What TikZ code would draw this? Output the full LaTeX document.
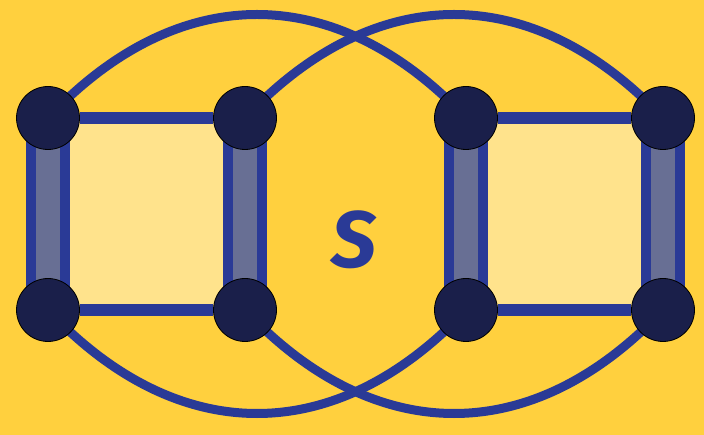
\documentclass[tikz,border=0pt]{standalone}
\usepackage{fontspec}
\setsansfont{Fira Sans}

\definecolor{bgyellow}{RGB}{255,208,62}
\definecolor{facefill}{RGB}{255,227,140}
\definecolor{edgeblue}{RGB}{42,58,150}
\definecolor{vertexnavy}{RGB}{26,31,74}
\definecolor{bargrey}{RGB}{104,111,148}

\pgfdeclarelayer{under}
\pgfsetlayers{under,main}

\begin{document}
\begin{tikzpicture}[
        x=1pt, y=-1pt,
        vertex/.style={
            circle,
            draw=black,
            line width=0.8pt,
            fill=vertexnavy,
            minimum size=63pt,
            inner sep=0pt
        },
        rungline/.style={
            line width=10pt,
            draw=edgeblue,
            double=bargrey,
            double distance=24pt
        },
        railline/.style={line width=12pt, draw=edgeblue},
        arcline/.style={line width=9pt, draw=edgeblue},
        squarefill/.style={fill=facefill}
    ]

        \useasboundingbox (0,0) rectangle (704,435);

        % left square
        \node[vertex] (a1) at (48,118) {};
        \node[vertex] (a2) at (245,118) {};
        \node[vertex] (a3) at (48,310) {};
        \node[vertex] (a4) at (245,310) {};

        % right square
        \node[vertex] (b1) at (466,118) {};
        \node[vertex] (b2) at (663,118) {};
        \node[vertex] (b3) at (466,310) {};
        \node[vertex] (b4) at (663,310) {};

        \node[text=edgeblue, font=\sffamily\bfseries\itshape\fontsize{80}{80}\selectfont,
            inner sep=0pt] (label) at (354,240) {S};

        \begin{pgfonlayer}{under}
            \fill[bgyellow] (0,0) rectangle (704,435);

            \fill[squarefill] (a1.center) rectangle (a4.center);
            \fill[squarefill] (b1.center) rectangle (b4.center);

            \draw[arcline] (a1.center) .. controls (178,-20) and (336,-20) .. (b1.center);
            \draw[arcline] (a2.center) .. controls (375,-20) and (533,-20) .. (b2.center);
            \draw[arcline] (a3.center) .. controls (178,448) and (336,448) .. (b3.center);
            \draw[arcline] (a4.center) .. controls (375,448) and (533,448) .. (b4.center);

            \draw[railline] (a1) -- (a2);
            \draw[railline] (a3) -- (a4);
            \draw[railline] (b1) -- (b2);
            \draw[railline] (b3) -- (b4);

            \draw[rungline] (a1.center) -- (a3.center);
            \draw[rungline] (a2.center) -- (a4.center);
            \draw[rungline] (b1.center) -- (b3.center);
            \draw[rungline] (b2.center) -- (b4.center);
        \end{pgfonlayer}

    \end{tikzpicture}
\end{document}
